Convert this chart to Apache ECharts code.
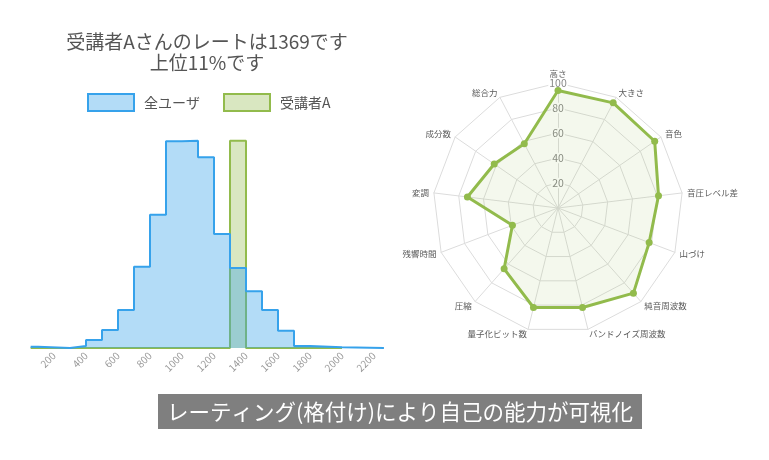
<!DOCTYPE html>
<html lang="ja">
<head>
    <meta charset="UTF-8">
    <title>レーティング</title>
    <style>
        body{margin:0;background:#fff;}
        #chart{width:769px;height:460px;}
    </style>
    <script src="https://cdn.jsdelivr.net/npm/echarts@6/dist/echarts.min.js"></script>
</head>
<body>
    <div id="chart"></div>
    <script>
        // histogram: bin edges and count of users in each bin
        var binEdges = [54, 100, 300, 400, 500, 600, 700, 800, 900, 1000, 1100, 1200, 1300, 1400, 1500, 1600, 1700, 1800, 2000, 2262];
        var userCounts = [2, 0, 3, 12, 27, 57, 122, 200, 310, 311, 286, 171, 120, 85, 57, 26, 3, 1, 0];
        // 受講者A bin
        var userEdges = [54, 1300, 1400, 2000];
        var userBar = [0, 311, 0];
        var xTicks = [200, 400, 600, 800, 1000, 1200, 1400, 1600, 1800, 2000, 2200];

        // radar (listed counter-clockwise from the top, as echarts draws them)
        var radarNames = ['高さ', '総合力', '成分数', '変調', '残響時間', '圧縮', '量子化ビット数', 'バンドノイズ周波数', '純音周波数', '山づけ', '音圧レベル差', '音色', '大きさ'];
        var radarValues = [94, 58, 62, 73, 39, 65, 82, 82, 91, 78, 81, 94, 95];

        var BLUE = '#36a2eb';
        var GREEN = '#92bb4c';
        var FONT = '"Noto Sans CJK JP", "Noto Sans", sans-serif';

        function stepData(edges, vals) {
            var d = edges.slice(0, -1).map(function (e, i) { return [e, vals[i]]; });
            d.push([edges[edges.length - 1], vals[vals.length - 1]]);
            return d;
        }

        var inst = echarts.init(document.getElementById('chart'));
        var opt = {
            animation: false,
            textStyle: {fontFamily: FONT},
            title: {
                text: '受講者Aさんのレートは1369です\n上位11%です',
                left: 207, top: 31, textAlign: 'center', padding: 0,
                textStyle: {fontSize: 19, lineHeight: 21, fontWeight: 'normal', color: '#555', fontFamily: FONT}
            },
            legend: {
                left: 87, top: 93, padding: 0, itemWidth: 46, itemHeight: 17, itemGap: 23,
                icon: 'rect',
                textStyle: {fontSize: 14, color: '#555', padding: [0, 0, 0, 5]},
                data: [
                    {name: '全ユーザ', itemStyle: {color: 'rgba(54,162,235,0.38)', borderColor: BLUE, borderWidth: 2}},
                    {name: '受講者A', itemStyle: {color: 'rgba(146,187,76,0.35)', borderColor: GREEN, borderWidth: 2}}
                ]
            },
            grid: {left: 22, right: 379, top: 140, bottom: 112, outerBoundsMode: 'none'},
            xAxis: {
                type: 'value', min: 0, max: 2300, interval: 200,
                axisLine: {show: false}, axisTick: {show: false}, splitLine: {show: false},
                axisLabel: {
                    rotate: 45, fontSize: 10, color: '#999', margin: 6,
                    showMinLabel: false, showMaxLabel: false,
                    formatter: function (v) { return xTicks.indexOf(v) >= 0 ? String(v) : ''; }
                }
            },
            yAxis: {type: 'value', min: 0, max: 312, show: false},
            radar: {
                center: [558, 208], radius: 125, shape: 'polygon', splitNumber: 5,
                axisName: {color: '#5a5a5a', fontSize: 8.5},
                nameGap: 5,
                splitLine: {lineStyle: {color: '#dcdcdc'}},
                splitArea: {show: false},
                axisLine: {lineStyle: {color: '#dcdcdc'}},
                axisTick: {show: false},
                axisLabel: {show: false},
                indicator: radarNames.map(function (n, i) {
                    var ind = {name: n, max: 100, min: 0};
                    if (i === 0) {
                        ind.axisLabel = {show: true, color: '#888', fontSize: 10.5, margin: 0,
                            align: 'center', verticalAlign: 'middle', showMinLabel: false,
                            backgroundColor: '#fff', padding: [0, 1]};
                    }
                    return ind;
                })
            },
            series: [
                {
                    name: '受講者A', type: 'line', step: 'end', symbol: 'none', z: 2,
                    data: stepData(userEdges, userBar),
                    lineStyle: {color: GREEN, width: 2},
                    itemStyle: {color: GREEN},
                    areaStyle: {color: 'rgba(146,187,76,0.35)', opacity: 1}
                },
                {
                    name: '全ユーザ', type: 'line', step: 'end', symbol: 'none', z: 3,
                    data: stepData(binEdges, userCounts),
                    lineStyle: {color: BLUE, width: 2},
                    itemStyle: {color: BLUE},
                    areaStyle: {color: 'rgba(54,162,235,0.38)', opacity: 1}
                },
                {
                    type: 'radar', symbol: 'circle', symbolSize: 7,
                    lineStyle: {color: GREEN, width: 3},
                    itemStyle: {color: GREEN},
                    areaStyle: {color: 'rgba(146,187,76,0.1)', opacity: 1},
                    data: [{value: radarValues, name: '受講者A'}]
                }
            ],
            graphic: [
                {type: 'rect', left: 158, top: 394, shape: {width: 484, height: 35}, style: {fill: '#7f7f7f'}},
                {type: 'text', x: 400, y: 411.5,
                    style: {text: 'レーティング(格付け)により自己の能力が可視化', fill: '#fff', fontSize: 21.5,
                        fontFamily: FONT, align: 'center', verticalAlign: 'middle'}},
                {type: 'circle', x: 558, y: 208, shape: {r: 1.3}, style: {fill: '#666'}}
            ]
        };
        inst.setOption(opt);
    </script>
</body>
</html>
